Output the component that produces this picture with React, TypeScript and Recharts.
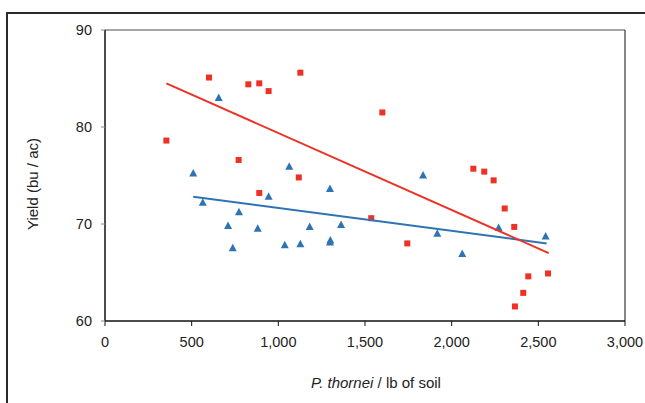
import React from "react";
import { ScatterChart, Scatter, XAxis, YAxis, ReferenceLine } from "recharts";

const redX = [354, 600, 827, 890, 944, 1127, 771, 1118, 890, 1600, 1536, 1744, 2125, 2188, 2242, 2306, 2361, 2442, 2556, 2413, 2365];
const redY = [78.6, 85.1, 84.4, 84.5, 83.7, 85.6, 76.6, 74.8, 73.2, 81.5, 70.6, 68.0, 75.7, 75.4, 74.5, 71.6, 69.7, 64.6, 64.9, 62.9, 61.5];

const blueX = [509, 564, 656, 710, 773, 737, 881, 944, 1063, 1037, 1127, 1181, 1298, 1298, 1300, 1362, 1835, 1917, 2061, 2271, 2542];
const blueY = [75.2, 72.2, 83.0, 69.8, 71.2, 67.5, 69.5, 72.8, 75.9, 67.8, 67.9, 69.7, 73.6, 68.1, 68.3, 69.9, 75.0, 69.0, 66.9, 69.6, 68.7];

const redTrendX = [354, 2560];
const redTrendY = [84.5, 67.0];
const blueTrendX = [509, 2548];
const blueTrendY = [72.8, 68.0];

const xTicks = [0, 500, 1000, 1500, 2000, 2500, 3000];
const yTicks = [60, 70, 80, 90];

const RED = "#EE3124";
const BLUE = "#2E74B5";

const zip = (xs: number[], ys: number[]) => xs.map((x, i) => ({ x, y: ys[i] }));

const redData = zip(redX, redY);
const blueData = zip(blueX, blueY);
const redTrend = zip(redTrendX, redTrendY);
const blueTrend = zip(blueTrendX, blueTrendY);

const SquareShape = (props: any) => {
  const { cx, cy } = props;
  if (cx == null || cy == null) return null;
  return <rect x={cx - 3} y={cy - 3} width={6} height={6} fill={RED} />;
};

const TriangleShape = (props: any) => {
  const { cx, cy } = props;
  if (cx == null || cy == null) return null;
  return (
    <polygon
      points={`${cx},${cy - 4.5} ${cx + 4},${cy + 3} ${cx - 4},${cy + 3}`}
      fill={BLUE}
    />
  );
};

const NoShape = () => null;

const FONT = "'Liberation Sans', Arial, sans-serif";

const XTitle = () => (
  <text x={376} y={388} textAnchor="middle" fontFamily={FONT} fontSize={15} fill="#222">
    <tspan fontStyle="italic">P. thornei</tspan>
    <tspan> / lb of soil</tspan>
  </text>
);

const YTitle = () => (
  <text
    x={38}
    y={184}
    transform="rotate(-90 38 184)"
    textAnchor="middle"
    fontFamily={FONT}
    fontSize={15}
    fill="#222"
  >
    Yield (bu / ac)
  </text>
);

export default function App() {
  return (
    <div style={{ position: "absolute", left: 0, top: 0, width: 645, height: 403, background: "#fff" }}>
      <div
        style={{
          position: "absolute",
          left: 6,
          top: 12,
          width: 645,
          height: 400,
          borderTop: "2px solid #2a2a2a",
          borderLeft: "2px solid #2a2a2a",
        }}
      />
      <div style={{ position: "absolute", left: 0, top: 0 }}>
        <ScatterChart
          width={645}
          height={403}
          margin={{ top: 30, right: 20, bottom: 22, left: 0 }}
        >
          <XAxis
            type="number"
            dataKey="x"
            domain={[0, 3000]}
            ticks={xTicks}
            interval={0}
            height={60}
            allowDuplicatedCategory={false}
            tickFormatter={(v: number) => v.toLocaleString("en-US")}
            axisLine={{ stroke: "#111", strokeWidth: 1.5 }}
            tickLine={{ stroke: "#111" }}
            tickSize={5}
            tickMargin={11}
            tick={{ fontFamily: FONT, fontSize: 14.5, fill: "#222" }}
            label={<XTitle />}
          />
          <YAxis
            type="number"
            dataKey="y"
            domain={[60, 90]}
            ticks={yTicks}
            interval={0}
            width={105}
            axisLine={{ stroke: "#111", strokeWidth: 1.5 }}
            tickLine={{ stroke: "#888" }}
            tickSize={4}
            tickMargin={9}
            tick={{ fontFamily: FONT, fontSize: 14.5, fill: "#222" }}
            label={<YTitle />}
          />
          <ReferenceLine y={90} stroke="#888" strokeWidth={1.5} />
          <ReferenceLine x={3000} stroke="#111" strokeWidth={1} />
          <Scatter data={blueData} shape={<TriangleShape />} isAnimationActive={false} />
          <Scatter data={redData} shape={<SquareShape />} isAnimationActive={false} />
          <Scatter
            data={blueTrend}
            line={{ stroke: BLUE, strokeWidth: 2 }}
            shape={<NoShape />}
            isAnimationActive={false}
          />
          <Scatter
            data={redTrend}
            line={{ stroke: RED, strokeWidth: 2 }}
            shape={<NoShape />}
            isAnimationActive={false}
          />
        </ScatterChart>
      </div>
    </div>
  );
}
